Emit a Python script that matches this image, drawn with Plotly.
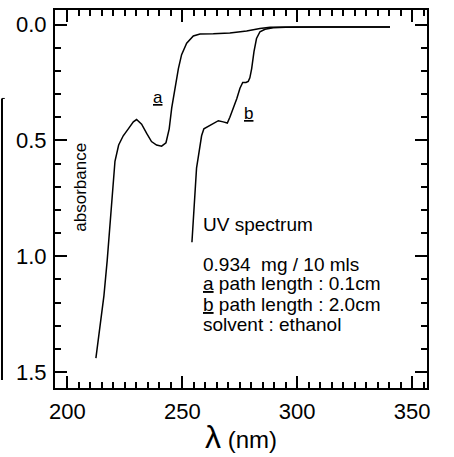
import plotly.graph_objects as go

# ---- data ----
a_nm = [212.4, 214.1, 215.9, 217.3, 218.5, 219.7, 220.7, 222.3, 224.3, 226.5, 228.7, 230.1,
        232.3, 234.5, 236.6, 238.8, 241.0, 242.9, 244.3, 245.4, 246.8, 248.3, 249.7, 251.9,
        254.8, 257.7, 263.5, 270.7, 278.0, 283.8, 288.2, 300.0, 320.0, 340.4]
a_abs = [1.44, 1.31, 1.17, 1.02, 0.87, 0.68, 0.59, 0.52, 0.48, 0.45, 0.42, 0.41,
         0.43, 0.47, 0.505, 0.52, 0.525, 0.51, 0.45, 0.36, 0.27, 0.19, 0.13, 0.08,
         0.049, 0.041, 0.04, 0.036, 0.028, 0.017, 0.012, 0.01, 0.01, 0.01]

b_nm = [254.2, 254.8, 256.2, 256.9, 257.7, 258.4, 259.4, 261.3, 263.5, 265.7, 267.8, 269.6,
        270.7, 271.9, 273.7, 275.1, 276.3, 277.7, 278.7, 279.4, 280.2, 281.2, 282.3, 283.8,
        286.0, 289.6, 295.0, 310.0, 325.0, 340.4]
b_abs = [0.94, 0.84, 0.62, 0.575, 0.53, 0.48, 0.45, 0.44, 0.425, 0.415, 0.42, 0.425,
         0.40, 0.37, 0.32, 0.275, 0.25, 0.25, 0.245, 0.23, 0.19, 0.117, 0.06, 0.031,
         0.02, 0.014, 0.011, 0.01, 0.01, 0.01]

x_ticks = [200, 250, 300, 350]
y_ticks = [0.0, 0.5, 1.0, 1.5]
y_ticklabels = ["0.0", "0.5", "1.0", "1.5"]

info_lines = ["0.934  mg / 10 mls",
              "<u>a</u> path length : 0.1cm",
              "<u>b</u> path length : 2.0cm",
              "solvent : ethanol"]
info_y = [1.034, 1.119, 1.207, 1.295]

FONT = "Liberation Sans, Arial, sans-serif"

fig = go.Figure()
fig.add_trace(go.Scatter(x=a_nm, y=a_abs, mode="lines",
                         line=dict(color="black", width=1.5), showlegend=False))
fig.add_trace(go.Scatter(x=b_nm, y=b_abs, mode="lines",
                         line=dict(color="black", width=1.5), showlegend=False))

axis_common = dict(showline=True, linecolor="black", linewidth=2, mirror="allticks",
                   ticks="inside", ticklen=12, tickwidth=2, tickcolor="black",
                   showgrid=False, zeroline=False,
                   tickfont=dict(family=FONT, size=22, color="black"))

fig.update_xaxes(range=[194.6, 356.5], tickvals=x_ticks,
                 minor=dict(dtick=5, tick0=200, ticks="inside", ticklen=6, tickwidth=1.5,
                            tickcolor="black", showgrid=False),
                 ticklabelstandoff=3,
                 title=dict(text='<span style="font-size:32px">λ</span> (nm)',
                            font=dict(family=FONT, size=24, color="black"), standoff=8),
                 **axis_common)
fig.update_yaxes(range=[1.569, -0.063], tickvals=y_ticks, ticktext=y_ticklabels,
                 minor=dict(dtick=0.1, tick0=0, ticks="inside", ticklen=6, tickwidth=1.5,
                            tickcolor="black", showgrid=False),
                 ticklabelstandoff=2,
                 **axis_common)

ann_font = dict(family=FONT, size=19, color="black")
fig.add_annotation(x=205.9, y=0.70, xref="x", yref="y", text="absorbance", textangle=-90,
                   showarrow=False, font=dict(family=FONT, size=17, color="black"))
fig.add_annotation(x=239.4, y=0.315, xref="x", yref="y", text="<u>a</u>",
                   showarrow=False, font=dict(family=FONT, size=17, color="black"))
fig.add_annotation(x=278.6, y=0.383, xref="x", yref="y", text="<u>b</u>",
                   showarrow=False, font=dict(family=FONT, size=17, color="black"))
fig.add_annotation(x=258.1, y=0.862, xref="x", yref="y", text="UV spectrum",
                   xanchor="left", yanchor="middle", showarrow=False, font=ann_font)
for txt, yy in zip(info_lines, info_y):
    fig.add_annotation(x=258.1, y=yy, xref="x", yref="y", text=txt,
                       xanchor="left", yanchor="middle", showarrow=False, font=ann_font)

# scan artefact at the left edge
fig.add_shape(type="line", xref="paper", yref="paper", x0=-0.1425, x1=-0.1425,
              y0=0.766, y1=0.021, line=dict(color="black", width=2))
fig.add_shape(type="line", xref="paper", yref="paper", x0=-0.1425, x1=-0.135,
              y0=0.766, y1=0.766, line=dict(color="black", width=1))

fig.update_layout(width=454, height=457, margin=dict(l=55, r=27, t=8, b=69),
                  paper_bgcolor="white", plot_bgcolor="white",
                  font=dict(family=FONT, color="black"))

fig.write_html("out.html", config={"displayModeBar": False},
               post_script="document.body.style.margin='0';")
